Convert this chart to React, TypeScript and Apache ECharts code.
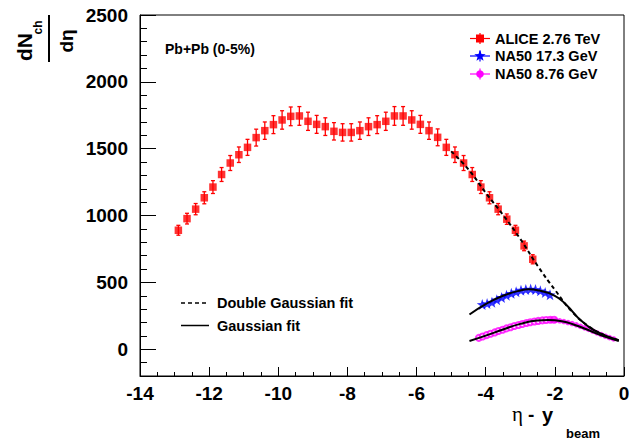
import React, { useEffect, useRef } from 'react';
import * as echarts from 'echarts';

// ALICE 2.76 TeV (Pb+Pb 0-5%)
const aliceEta = [-12.89, -12.64, -12.39, -12.14, -11.89, -11.64, -11.39, -11.14, -10.89, -10.64,
  -10.39, -10.14, -9.89, -9.64, -9.39, -9.14, -8.89, -8.64, -8.39, -8.14,
  -7.89, -7.64, -7.39, -7.14, -6.89, -6.64, -6.39, -6.14, -5.89, -5.64,
  -5.39, -5.14, -4.89, -4.64, -4.39, -4.14, -3.89, -3.64, -3.39, -3.14,
  -2.89, -2.64];
const aliceVal = [890, 977, 1048, 1133, 1213, 1307, 1393, 1455, 1510, 1583,
  1635, 1680, 1715, 1742, 1745, 1705, 1682, 1665, 1630, 1622,
  1622, 1635, 1665, 1680, 1705, 1745, 1745, 1715, 1682, 1635,
  1585, 1510, 1455, 1393, 1307, 1213, 1133, 1048, 973, 890,
  773, 673];
const aliceErr = [37, 40, 42, 45, 48, 52, 56, 58, 60, 63,
  65, 67, 69, 70, 70, 68, 67, 66, 65, 65,
  65, 65, 66, 67, 68, 70, 70, 69, 67, 65,
  63, 60, 58, 56, 52, 48, 45, 42, 39, 37,
  36, 34];

// NA50 17.3 GeV
const na50HighEta = [-4.10, -3.96, -3.82, -3.68, -3.54, -3.40, -3.26, -3.12, -2.98, -2.84, -2.70, -2.56, -2.42, -2.28, -2.14];
const na50HighVal = [335, 342, 352, 370, 388, 404, 418, 430, 442, 447, 450, 447, 437, 424, 408];

// NA50 8.76 GeV (open = reflected, filled = measured)
const na50LowOpenEta = [-4.20, -4.09, -3.97, -3.86, -3.74, -3.63, -3.51, -3.40, -3.28, -3.17,
  -3.05, -2.94, -2.82, -2.71, -2.59, -2.48, -2.36, -2.25, -2.13, -2.02];
const na50LowOpenVal = [85, 95, 106, 116, 126, 136, 146, 156, 165, 174,
  182, 189, 196, 202, 207, 212, 216, 219, 221, 221];
const na50LowFillEta = [-2.10, -1.98, -1.86, -1.74, -1.62, -1.50, -1.38, -1.26, -1.14, -1.02,
  -0.90, -0.78, -0.66, -0.54, -0.42, -0.30];
const na50LowFillVal = [220, 217, 213, 207, 200, 192, 183, 172, 160, 148,
  135, 122, 110, 98, 87, 77];

// Fits
const dgFitEta = [-5.0, -4.5, -4.0, -3.5, -3.0, -2.5, -2.0, -1.5, -1.0, -0.5, -0.15];
const dgFitVal = [1480, 1345, 1170, 1005, 825, 625, 445, 280, 168, 98, 67];
const gHighFitEta = [-4.47, -4.0, -3.5, -3.0, -2.75, -2.5, -2.0, -1.68, -1.2, -0.7, -0.15];
const gHighFitVal = [260, 338, 400, 440, 448, 442, 400, 335, 205, 120, 68];
const gLowFitEta = [-4.47, -4.0, -3.5, -3.0, -2.5, -2.2, -1.8, -1.4, -1.0, -0.6, -0.15];
const gLowFitVal = [62, 102, 148, 190, 215, 218, 210, 180, 140, 98, 62];

const xTicks = { min: -14, max: 0, interval: 2 };
const yMajorTicks = [0, 500, 1000, 1500, 2000, 2500];

const FONT = 'Liberation Sans';
const STAR = 'path://M0,-10 L2.35,-3.24 L9.51,-3.09 L3.8,1.24 L5.88,8.09 L0,4 L-5.88,8.09 L-3.8,1.24 L-9.51,-3.09 L-2.35,-3.24 Z';

const zip = (a: number[], b: number[]) => a.map((x, i) => [x, b[i]]);

function starPoints(cx: number, cy: number, r: number) {
  const pts: number[][] = [];
  for (let i = 0; i < 10; i++) {
    const rr = i % 2 === 0 ? r : r * 0.42;
    const ang = -Math.PI / 2 + (i * Math.PI) / 5;
    pts.push([cx + rr * Math.cos(ang), cy + rr * Math.sin(ang)]);
  }
  return pts;
}

function txt(x: number, y: number, text: string, font: string, extra: any = {}) {
  return {
    type: 'text', x, y, ...extra,
    style: { text, font, fill: '#000', align: 'left', verticalAlign: 'middle', textAlign: 'left', textVerticalAlign: 'middle', ...(extra.style || {}) },
  };
}

export default function App() {
  const ref = useRef<HTMLDivElement>(null);
  useEffect(() => {
    const chart = echarts.init(ref.current!, null, { renderer: 'svg' });
    const legendRows = [
      { y: 38.5, color: '#ff0000', label: 'ALICE 2.76 TeV', kind: 'rect' },
      { y: 56, color: '#0000ff', label: 'NA50 17.3 GeV', kind: 'star' },
      { y: 74, color: '#ff00ff', label: 'NA50 8.76 GeV', kind: 'circle' },
    ];
    const legendEls: any[] = [];
    legendRows.forEach((r) => {
      legendEls.push({ type: 'line', shape: { x1: 470, y1: r.y, x2: 490, y2: r.y }, style: { stroke: r.color, lineWidth: 1.2 } });
      legendEls.push({ type: 'line', shape: { x1: 480, y1: r.y - 5.5, x2: 480, y2: r.y + 5.5 }, style: { stroke: r.color, lineWidth: 1.2 } });
      if (r.kind === 'rect') legendEls.push({ type: 'rect', shape: { x: 476, y: r.y - 4, width: 8, height: 8 }, style: { fill: r.color } });
      if (r.kind === 'star') legendEls.push({ type: 'polygon', shape: { points: starPoints(480, r.y, 6) }, style: { fill: r.color } });
      if (r.kind === 'circle') legendEls.push({ type: 'circle', shape: { cx: 480, cy: r.y, r: 3.8 }, style: { fill: r.color } });
      legendEls.push(txt(495, r.y, r.label, `bold 14.5px ${FONT}`));
    });

    const option: any = {
      animation: false,
      backgroundColor: '#fff',
      textStyle: { fontFamily: FONT, fontWeight: 'bold', color: '#000' },
      grid: { left: 140, top: 15, right: 17, bottom: 63, show: true, borderColor: '#000', borderWidth: 1, backgroundColor: 'transparent' },
      xAxis: {
        type: 'value', min: xTicks.min, max: xTicks.max, interval: xTicks.interval,
        axisLine: { show: true, onZero: false, lineStyle: { color: '#000', width: 1 } },
        axisTick: { show: true, inside: true, length: 9, lineStyle: { color: '#000', width: 1 } },
        minorTick: { show: true, splitNumber: 4, length: 4, lineStyle: { color: '#000', width: 1 } },
        axisLabel: { fontSize: 19, fontWeight: 'bold', fontFamily: FONT, color: '#000', margin: 8 },
        splitLine: { show: false },
      },
      yAxis: [
        {
          type: 'value', min: -200, max: 2500, interval: 100,
          axisLine: { show: true, onZero: false, lineStyle: { color: '#000', width: 1 } },
          axisTick: { show: true, inside: true, length: 7, lineStyle: { color: '#000', width: 1 } },
          axisLabel: {
            fontSize: 19, fontWeight: 'bold', color: '#000', fontFamily: FONT, margin: 12,
            formatter: (v: number) => (yMajorTicks.includes(v) ? String(v) : ''),
          },
          splitLine: { show: false },
        },
        {
          type: 'value', min: -200, max: 2500, interval: 100, position: 'left',
          axisLine: { show: false, onZero: false },
          axisTick: { show: true, inside: true, length: 16, customValues: yMajorTicks, lineStyle: { color: '#000', width: 1 } },
          axisLabel: { show: false },
          splitLine: { show: false },
        },
      ],
      series: [
        {
          type: 'custom', silent: true, z: 2,
          data: aliceEta.map((x, i) => [x, aliceVal[i], aliceErr[i]]),
          encode: { x: 0, y: 1 },
          renderItem: (params: any, api: any) => {
            const x = api.value(0), y = api.value(1), e = api.value(2);
            const t = api.coord([x, y + e]);
            const b = api.coord([x, y - e]);
            const cw = 2;
            const st = { stroke: '#ff0000', lineWidth: 1.3 };
            return {
              type: 'group',
              children: [
                { type: 'line', shape: { x1: t[0], y1: t[1], x2: b[0], y2: b[1] }, style: st },
                { type: 'line', shape: { x1: t[0] - cw, y1: t[1], x2: t[0] + cw, y2: t[1] }, style: st },
                { type: 'line', shape: { x1: b[0] - cw, y1: b[1], x2: b[0] + cw, y2: b[1] }, style: st },
              ],
            };
          },
        },
        {
          name: 'ALICE 2.76 TeV', type: 'scatter', z: 3, symbol: 'rect', symbolSize: 7.5,
          itemStyle: { color: '#ff0000' }, data: zip(aliceEta, aliceVal),
        },
        {
          name: 'NA50 17.3 GeV', type: 'scatter', z: 3, symbol: STAR, symbolSize: 11,
          itemStyle: { color: '#0000ff' }, data: zip(na50HighEta, na50HighVal),
        },
        {
          name: 'NA50 8.76 GeV open', type: 'scatter', z: 3, symbol: 'emptyCircle', symbolSize: 6,
          itemStyle: { color: '#ff00ff', borderColor: '#ff00ff', borderWidth: 1 }, data: zip(na50LowOpenEta, na50LowOpenVal),
        },
        {
          name: 'NA50 8.76 GeV', type: 'scatter', z: 3, symbol: 'circle', symbolSize: 5.5,
          itemStyle: { color: '#ff00ff' }, data: zip(na50LowFillEta, na50LowFillVal),
        },
        {
          name: 'Double Gaussian fit', type: 'line', z: 5, smooth: true, showSymbol: false, symbol: 'none',
          lineStyle: { color: '#000', width: 2, type: [4, 3] }, data: zip(dgFitEta, dgFitVal),
        },
        {
          name: 'Gaussian fit 17.3', type: 'line', z: 5, smooth: true, showSymbol: false, symbol: 'none',
          lineStyle: { color: '#000', width: 2 }, data: zip(gHighFitEta, gHighFitVal),
        },
        {
          name: 'Gaussian fit 8.76', type: 'line', z: 5, smooth: true, showSymbol: false, symbol: 'none',
          lineStyle: { color: '#000', width: 2 }, data: zip(gLowFitEta, gLowFitVal),
        },
      ],
      graphic: [
        ...legendEls,
        txt(165, 49, 'Pb+Pb (0-5%)', `bold 14px ${FONT}`),
        { type: 'line', shape: { x1: 181, y1: 303, x2: 209, y2: 303 }, style: { stroke: '#000', lineWidth: 1.5, lineDash: [4, 3] } },
        txt(217, 303, 'Double Gaussian fit', `bold 14.5px ${FONT}`),
        { type: 'line', shape: { x1: 181, y1: 325.5, x2: 209, y2: 325.5 }, style: { stroke: '#000', lineWidth: 1.5 } },
        txt(217, 325.5, 'Gaussian fit', `bold 14.5px ${FONT}`),
        // x axis title
        txt(512, 414, 'η', `21px Liberation Serif, DejaVu Serif, serif`),
        txt(528, 414, '-', `bold 19px ${FONT}`),
        txt(542, 415, 'y', `bold 20px ${FONT}`),
        txt(566, 433, 'beam', `bold 13px ${FONT}`),
        // y axis title (rotated)
        { type: 'text', x: 24, y: 47, rotation: Math.PI / 2, style: { text: 'dN', font: `bold 21px ${FONT}`, fill: '#000', align: 'center', verticalAlign: 'middle', textAlign: 'center', textVerticalAlign: 'middle' } },
        { type: 'text', x: 37.5, y: 27.5, rotation: Math.PI / 2, style: { text: 'ch', font: `bold 12px ${FONT}`, fill: '#000', align: 'center', verticalAlign: 'middle', textAlign: 'center', textVerticalAlign: 'middle' } },
        { type: 'line', shape: { x1: 49, y1: 15, x2: 49, y2: 62 }, style: { stroke: '#000', lineWidth: 2 } },
        { type: 'text', x: 66, y: 41, rotation: Math.PI / 2, style: { text: 'dη', font: `bold 19px ${FONT}`, fill: '#000', align: 'center', verticalAlign: 'middle', textAlign: 'center', textVerticalAlign: 'middle' } },
      ],
    };
    chart.setOption(option);
    return () => chart.dispose();
  }, []);
  return <div ref={ref} style={{ position: 'fixed', left: 0, top: 0, width: 641, height: 439 }} />;
}
